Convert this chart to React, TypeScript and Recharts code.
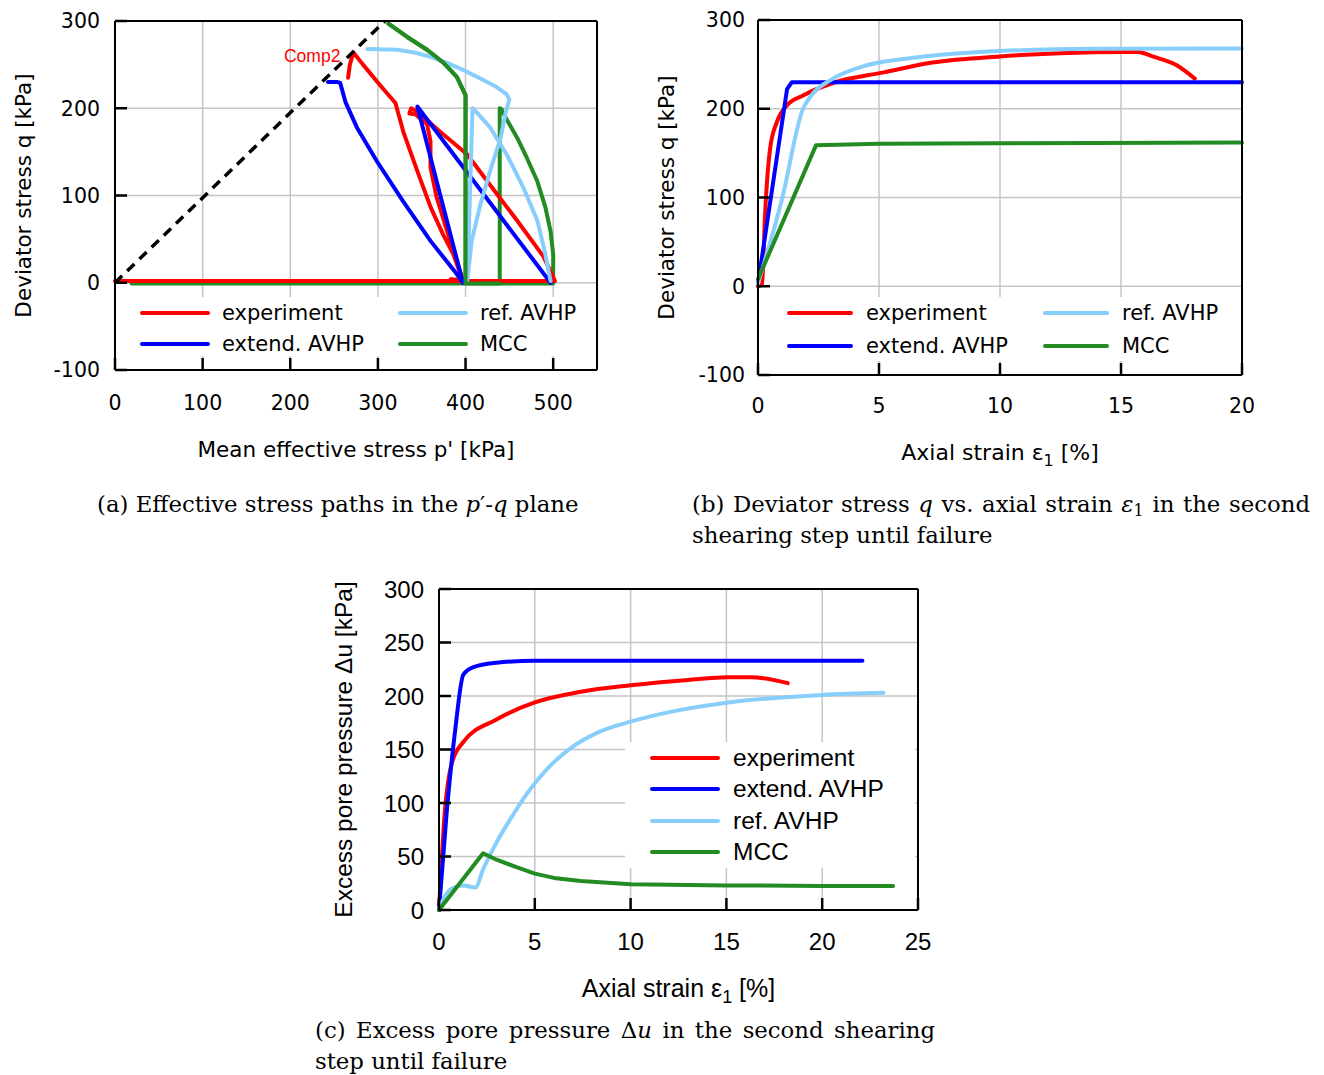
import React from 'react';
import { LineChart, Line, XAxis, YAxis, CartesianGrid, Legend, ReferenceDot } from 'recharts';

const RED = '#ff0000';
const BLUE = '#0000ff';
const LIGHT = '#87cefa';
const GREEN = '#228b22';
const GRID = '#c4c4c4';

const SANS_AB = '"DejaVu Sans", Verdana, sans-serif';
const SANS_C = '"Liberation Sans", Arial, sans-serif';
const SERIF = '"DejaVu Serif", serif';

// (a) stress paths: p' [kPa] / q [kPa]
const pTicks = [0, 100, 200, 300, 400, 500];
const qTicks = [-100, 0, 100, 200, 300];
const cslP = [0, 308];
const cslQ = [0, 300];
const expP = [0, 500, 502, 489, 459, 425, 402, 371, 345, 338, 336, 343, 356, 360, 360, 367, 379, 390, 397, 383, 397, 386, 374, 360, 345, 329, 320, 302, 283, 272, 268, 266];
const expQ = [2, 2, 2, 30, 71, 116, 147, 173, 196, 200, 194, 193, 182, 162, 132, 98, 59, 25, 3, 4, 2, 33, 56, 87, 128, 173, 206, 227, 250, 264, 250, 235];
const extP = [497, 345, 397, 390, 360, 329, 299, 276, 263, 257, 254, 243];
const extQ = [0, 202, 0, 10, 48, 93, 139, 178, 207, 229, 230, 230];
const refP = [497, 491, 482, 466, 447, 428, 413, 408, 402, 407, 417, 428, 440, 446, 450, 447, 436, 417, 397, 379, 360, 341, 322, 288];
const refQ = [2, 33, 71, 109, 147, 178, 195, 200, 2, 48, 90, 128, 166, 196, 210, 216, 224, 234, 244, 252, 259, 264, 267, 268];
const mccP = [19, 500, 500, 497, 491, 482, 470, 459, 447, 441, 439, 439, 400, 400, 390, 375, 356, 333, 312];
const mccQ = [-1, -1, 33, 59, 87, 116, 143, 166, 187, 199, 200, -1, -1, 215, 236, 252, 267, 282, 297];

// (b) q vs axial strain
const strainTicksB = [0, 5, 10, 15, 20];
const expEb = [0, 0.17, 0.29, 0.5, 0.78, 1.2, 1.86, 3.1, 5.2, 7.2, 10, 12.5, 15, 15.7, 16.3, 17.3, 18.05];
const expQb = [0, 2, 80, 155, 185, 204, 215, 229, 241, 252, 259, 262.5, 264, 264, 259, 249, 234];
const extEb = [0, 1.2, 1.4, 20];
const extQb = [3, 222, 230, 230];
const refEb = [0, 1.0, 1.86, 2.15, 3.1, 4.5, 6.6, 10, 14, 20];
const refQb = [3, 99, 200, 213, 234, 249, 258, 265, 267.5, 268];
const mccEb = [0, 2.4, 5, 10, 20];
const mccQb = [8, 159, 160.5, 161, 162];

// (c) excess pore pressure vs axial strain
const strainTicksC = [0, 5, 10, 15, 20, 25];
const uTicks = [0, 50, 100, 150, 200, 250, 300];
const expEc = [0, 0.3, 0.68, 1.27, 3, 5, 7.4, 10, 13, 15.1, 16.3, 18.2];
const expUc = [0, 91, 138, 157, 178, 194, 204, 210, 215, 217.5, 217.5, 212];
const extEc = [0, 0.4, 0.85, 1.27, 1.8, 3.0, 5, 10, 15, 22.1];
const extUc = [0, 91, 169, 220, 227, 231, 233, 233, 233, 233];
const refEc = [0, 0.58, 1.27, 1.9, 2.3, 3.0, 3.9, 4.6, 5.6, 6.7, 8.3, 10, 12.6, 15.1, 20, 23.2];
const refUc = [2, 19, 23, 21, 38, 63, 90, 109, 131, 149, 166, 176, 187, 194, 201, 203];
const mccEc = [0, 2.3, 3, 3.9, 5, 6, 7.4, 10, 15, 20, 23.7];
const mccUc = [0, 53, 47, 41, 34, 30, 27, 24, 23, 22.5, 22.5];

const zip = (xs: number[], ys: number[]) => xs.map((x, i) => ({ x, y: ys[i] }));

const names = ['experiment', 'extend. AVHP', 'ref. AVHP', 'MCC'];
const colors = [RED, BLUE, LIGHT, GREEN];

const black = { stroke: '#000', strokeWidth: 2 };
const tickStroke = { stroke: '#000', strokeWidth: 2.5 };
const TICK = 12;

type Slot = { idx: number; left: number; top: number };

function LegendBox({ slots, lineW, gap, font, size }: { slots: Slot[]; lineW: number; gap: number; font: string; size: number }) {
  return (
    <div style={{ position: 'relative', width: '100%', height: '100%', background: '#fff' }}>
      {slots.map((s) => (
        <div
          key={s.idx}
          style={{ position: 'absolute', left: s.left, top: s.top - 15, height: 30, display: 'flex', alignItems: 'center', whiteSpace: 'nowrap' }}
        >
          <div style={{ width: lineW, height: 4, borderRadius: 2, background: colors[s.idx] }} />
          <span style={{ marginLeft: gap, fontFamily: font, fontSize: size, color: '#000', lineHeight: '30px' }}>{names[s.idx]}</span>
        </div>
      ))}
    </div>
  );
}

const xTitle = (content: React.ReactNode, below: number, font: string, size: number) => ({
  content: (props: any) => {
    const vb = props.viewBox || {};
    return (
      <text x={vb.x + vb.width / 2} y={vb.y + below} textAnchor="middle" fontFamily={font} fontSize={size} fill="#000">
        {content}
      </text>
    );
  },
});

const yTitle = (content: React.ReactNode, dx: number, font: string, size: number) => ({
  content: (props: any) => {
    const vb = props.viewBox || {};
    const cx = vb.x + (vb.width || 0) - dx;
    const cy = vb.y + vb.height / 2;
    return (
      <text x={cx} y={cy} transform={`rotate(-90 ${cx} ${cy})`} textAnchor="middle" dominantBaseline="central" fontFamily={font} fontSize={size} fill="#000">
        {content}
      </text>
    );
  },
});

// inward tick marks, drawn from the axis position recharts hands to the tick renderer
const bottomTick = (font: string, size: number, gap: number) => (props: any) => {
  const { x, y, payload } = props;
  return (
    <g>
      <line x1={x} x2={x} y1={y} y2={y - TICK} {...tickStroke} />
      <text x={x} y={y + gap + size * 0.73} textAnchor="middle" fontFamily={font} fontSize={size} fill="#000">
        {payload.value}
      </text>
    </g>
  );
};
const leftTick = (font: string, size: number, gap: number) => (props: any) => {
  const { x, y, payload } = props;
  return (
    <g>
      <line x1={x} x2={x + TICK} y1={y} y2={y} {...tickStroke} />
      <text x={x - gap} y={y + size * 0.36} textAnchor="end" fontFamily={font} fontSize={size} fill="#000">
        {payload.value}
      </text>
    </g>
  );
};
const topTick = (props: any) => <line x1={props.x} x2={props.x} y1={props.y} y2={props.y + TICK} {...tickStroke} />;
const rightTick = (props: any) => <line x1={props.x} x2={props.x - TICK} y1={props.y} y2={props.y} {...tickStroke} />;

const strainLabel = (
  <>
    <tspan>Axial strain ε</tspan>
    <tspan dy={6} fontSize="0.72em">1</tspan>
    <tspan dy={-6}> [%]</tspan>
  </>
);

const lineProps = { dot: false, isAnimationActive: false, strokeWidth: 4, strokeLinejoin: 'round' as const, strokeLinecap: 'round' as const };

function frameAxes(
  xDomain: number[],
  xTicks: number[],
  yDomain: number[],
  yTicks: number[],
  font: string,
  size: number,
  xGap: number,
  yGap: number,
  xT: any,
  yT: any,
) {
  const common = { type: 'number' as const, tickSize: 0, tickMargin: 0, tickLine: false, axisLine: black, interval: 0 as const };
  return [
    <XAxis key="xb" {...common} dataKey="x" domain={xDomain} ticks={xTicks} height={1} tick={bottomTick(font, size, xGap)} label={xT} />,
    <XAxis key="xt" {...common} xAxisId="top" orientation="top" domain={xDomain} ticks={xTicks} height={1} tick={topTick} />,
    <YAxis key="yl" {...common} dataKey="y" domain={yDomain} ticks={yTicks} width={1} tick={leftTick(font, size, yGap)} label={yT} />,
    <YAxis key="yr" {...common} yAxisId="right" orientation="right" domain={yDomain} ticks={yTicks} width={1} tick={rightTick} />,
  ];
}

function StressPaths() {
  return (
    <LineChart width={610} height={470} margin={{ top: 20, right: 12, bottom: 99, left: 114 }}>
      <CartesianGrid stroke={GRID} strokeWidth={1.5} />
      {frameAxes([0, 550], pTicks, [-100, 300], qTicks, SANS_AB, 20.5, 25, 15,
        xTitle("Mean effective stress p' [kPa]", 87, SANS_AB, 21.5),
        yTitle('Deviator stress q [kPa]', 92, SANS_AB, 21.5))}
      <Line data={zip(mccP, mccQ)} dataKey="y" type="linear" stroke={GREEN} {...lineProps} />
      <Line data={zip(expP, expQ)} dataKey="y" type="linear" stroke={RED} {...lineProps} />
      <Line data={zip(extP, extQ)} dataKey="y" type="linear" stroke={BLUE} {...lineProps} />
      <Line data={zip(refP, refQ)} dataKey="y" type="linear" stroke={LIGHT} {...lineProps} />
      <Line data={zip(mccP.slice(11), mccQ.slice(11))} dataKey="y" type="linear" stroke={GREEN} {...lineProps} legendType="none" />
      <Line data={zip(cslP, cslQ)} dataKey="y" type="linear" stroke="#000" strokeDasharray="10 7" {...lineProps} strokeWidth={3.5} strokeLinecap="butt" />
      <ReferenceDot x={225} y={260} r={0} stroke="none" label={{ value: 'Comp2', position: 'center', fill: RED, fontSize: 17.5, fontFamily: SANS_C }} />
      <Legend
        layout="horizontal"
        verticalAlign="middle"
        align="center"
        wrapperStyle={{ left: 117, top: 297, width: 478, height: 59 }}
        content={() => (
          <LegendBox
            slots={[
              { idx: 0, left: 23, top: 16 },
              { idx: 2, left: 281, top: 16 },
              { idx: 1, left: 23, top: 47 },
              { idx: 3, left: 281, top: 47 },
            ]}
            lineW={70}
            gap={12}
            font={SANS_AB}
            size={21}
          />
        )}
      />
    </LineChart>
  );
}

function DeviatorStrain() {
  return (
    <LineChart width={610} height={480} margin={{ top: 19, right: 17, bottom: 104, left: 107 }}>
      <CartesianGrid stroke={GRID} strokeWidth={1.5} />
      {frameAxes([0, 20], strainTicksB, [-100, 300], qTicks, SANS_AB, 20.5, 23, 13,
        xTitle(strainLabel, 85, SANS_AB, 22),
        yTitle('Deviator stress q [kPa]', 92, SANS_AB, 21.5))}
      <Line data={zip(expEb, expQb)} dataKey="y" type="monotone" stroke={RED} {...lineProps} />
      <Line data={zip(extEb, extQb)} dataKey="y" type="linear" stroke={BLUE} {...lineProps} />
      <Line data={zip(refEb, refQb)} dataKey="y" type="monotone" stroke={LIGHT} {...lineProps} />
      <Line data={zip(mccEb, mccQb)} dataKey="y" type="linear" stroke={GREEN} {...lineProps} />
      <Legend
        layout="horizontal"
        verticalAlign="middle"
        align="center"
        wrapperStyle={{ left: 110, top: 297, width: 480, height: 64 }}
        content={() => (
          <LegendBox
            slots={[
              { idx: 0, left: 27, top: 16 },
              { idx: 2, left: 283, top: 16 },
              { idx: 1, left: 27, top: 49 },
              { idx: 3, left: 283, top: 49 },
            ]}
            lineW={66}
            gap={13}
            font={SANS_AB}
            size={21}
          />
        )}
      />
    </LineChart>
  );
}

function PorePressure() {
  return (
    <LineChart width={610} height={440} margin={{ top: 18, right: 21, bottom: 99, left: 108 }}>
      <CartesianGrid stroke={GRID} strokeWidth={1.5} />
      {frameAxes([0, 25], strainTicksC, [0, 300], uTicks, SANS_C, 24, 22, 15,
        xTitle(strainLabel, 87, SANS_C, 25),
        yTitle('Excess pore pressure Δu [kPa]', 96, SANS_C, 24.5))}
      <Line data={zip(expEc, expUc)} dataKey="y" type="monotone" stroke={RED} {...lineProps} />
      <Line data={zip(extEc, extUc)} dataKey="y" type="monotone" stroke={BLUE} {...lineProps} />
      <Line data={zip(refEc, refUc)} dataKey="y" type="monotone" stroke={LIGHT} {...lineProps} />
      <Line data={zip(mccEc, mccUc)} dataKey="y" type="linear" stroke={GREEN} {...lineProps} />
      <Legend
        layout="horizontal"
        verticalAlign="middle"
        align="center"
        wrapperStyle={{ left: 295, top: 172, width: 290, height: 126 }}
        content={() => (
          <LegendBox
            slots={[
              { idx: 0, left: 25, top: 16 },
              { idx: 1, left: 25, top: 47 },
              { idx: 2, left: 25, top: 79 },
              { idx: 3, left: 25, top: 110 },
            ]}
            lineW={70}
            gap={13}
            font={SANS_C}
            size={24.5}
          />
        )}
      />
    </LineChart>
  );
}

const captionStyle: React.CSSProperties = { position: 'absolute', fontFamily: SERIF, fontSize: 22.8, lineHeight: '31px', color: '#000', whiteSpace: 'nowrap' };
const justified: React.CSSProperties = { textAlign: 'justify', textAlignLast: 'justify', whiteSpace: 'normal', height: 31 };
const sub: React.CSSProperties = { fontSize: '0.7em', verticalAlign: '-0.25em', lineHeight: 0 };

export default function App() {
  return (
    <div style={{ position: 'absolute', left: 0, top: 0, width: 1324, height: 1075, background: '#fff' }}>
      <div style={{ position: 'absolute', left: 0, top: 0 }}>
        <StressPaths />
      </div>
      <div style={{ position: 'absolute', left: 650, top: 0 }}>
        <DeviatorStrain />
      </div>
      <div style={{ position: 'absolute', left: 330, top: 570 }}>
        <PorePressure />
      </div>
      <div style={{ ...captionStyle, left: 97, top: 489 }}>
        (a) Effective stress paths in the <i>p</i>′-<i>q</i> plane
      </div>
      <div style={{ ...captionStyle, left: 692, top: 489, width: 618 }}>
        <div style={justified}>
          (b) Deviator stress <i>q</i> vs. axial strain <i>ε</i>
          <span style={sub}>1</span> in the second
        </div>
        <div>shearing step until failure</div>
      </div>
      <div style={{ ...captionStyle, left: 315, top: 1015, width: 620 }}>
        <div style={justified}>
          (c) Excess pore pressure Δ<i>u</i> in the second shearing
        </div>
        <div>step until failure</div>
      </div>
    </div>
  );
}
